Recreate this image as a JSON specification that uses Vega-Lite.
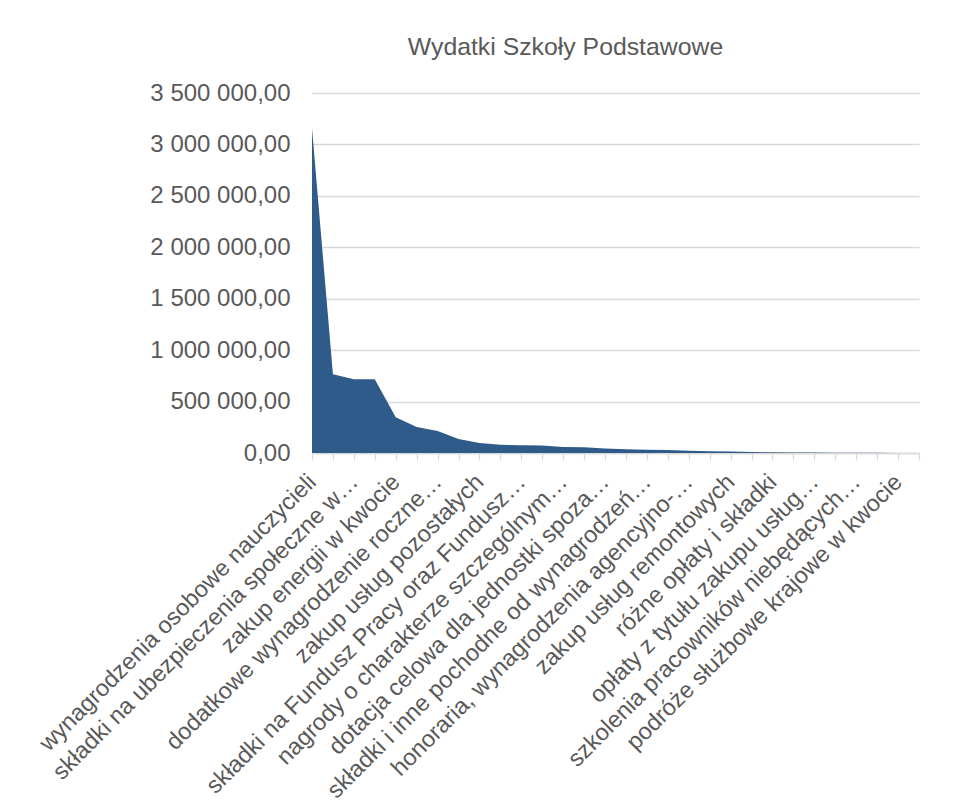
{
  "$schema": "https://vega.github.io/schema/vega-lite/v6.json",
  "width": 607,
  "height": 360,
  "autosize": {"type": "none"},
  "padding": {"left": 312, "top": 93, "right": 36, "bottom": 352},
  "background": "white",
  "title": {
    "text": "Wydatki Szkoły Podstawowe",
    "font": "Liberation Sans",
    "fontSize": 24.8,
    "fontWeight": "normal",
    "color": "#595959",
    "anchor": "middle",
    "frame": "group",
    "dx": -50,
    "offset": 21
  },
  "config": {
    "locale": {"number": {"decimal": ",", "thousands": " ", "grouping": [3], "currency": ["", " zł"]}},
    "view": {"stroke": null},
    "font": "Liberation Sans"
  },
  "data": {
    "values": [
      {"kategoria": "wynagrodzenia osobowe nauczycieli", "kwota": 3157000},
      {"kategoria": "wynagrodzenia osobowe pracowników", "kwota": 765000},
      {"kategoria": "składki na ubezpieczenia społeczne w…", "kwota": 716000},
      {"kategoria": "zakup materiałów i wyposażenia", "kwota": 716000},
      {"kategoria": "zakup energii w kwocie", "kwota": 347000},
      {"kategoria": "wydatki osobowe niezaliczone do wynagrodzeń", "kwota": 252000},
      {"kategoria": "dodatkowe wynagrodzenie roczne…", "kwota": 214000},
      {"kategoria": "odpisy na zakładowy fundusz świadczeń socjalnych", "kwota": 136000},
      {"kategoria": "zakup usług pozostałych", "kwota": 97000},
      {"kategoria": "zakup pomocy naukowych, dydaktycznych i książek", "kwota": 81000},
      {"kategoria": "składki na Fundusz Pracy oraz Fundusz…", "kwota": 75000},
      {"kategoria": "zakup środków żywności", "kwota": 72000},
      {"kategoria": "nagrody o charakterze szczególnym…", "kwota": 58000},
      {"kategoria": "wynagrodzenia bezosobowe", "kwota": 55000},
      {"kategoria": "dotacja celowa dla jednostki spoza…", "kwota": 44000},
      {"kategoria": "zakup usług dostępu do sieci Internet", "kwota": 36000},
      {"kategoria": "składki i inne pochodne od wynagrodzeń…", "kwota": 32000},
      {"kategoria": "podatek od nieruchomości", "kwota": 28000},
      {"kategoria": "honoraria, wynagrodzenia agencyjno-…", "kwota": 22000},
      {"kategoria": "zakup usług zdrowotnych", "kwota": 18000},
      {"kategoria": "zakup usług remontowych", "kwota": 14000},
      {"kategoria": "opłaty za administrowanie i czynsze", "kwota": 10000},
      {"kategoria": "różne opłaty i składki", "kwota": 7000},
      {"kategoria": "zakup akcesoriów komputerowych", "kwota": 5000},
      {"kategoria": "opłaty z tytułu zakupu usług…", "kwota": 4000},
      {"kategoria": "podróże służbowe zagraniczne", "kwota": 3000},
      {"kategoria": "szkolenia pracowników niebędących…", "kwota": 2000},
      {"kategoria": "zakup usług obejmujących wykonanie ekspertyz", "kwota": 1500},
      {"kategoria": "podróże służbowe krajowe w kwocie", "kwota": 1000},
      {"kategoria": "pozostałe odsetki", "kwota": 500}
    ]
  },
  "mark": {"type": "area", "color": "#2e5b8a", "interpolate": "linear"},
  "encoding": {
    "x": {
      "field": "kategoria",
      "type": "nominal",
      "sort": null,
      "scale": {"type": "point", "padding": 0},
      "axis": {
        "title": null,
        "labelAngle": -45,
        "labelAlign": "right",
        "labelBaseline": "middle",
        "labelFont": "Liberation Sans",
        "labelFontSize": 23.5,
        "labelColor": "#595959",
        "labelLimit": 1000,
        "labelPadding": 18,
        "labelOverlap": false,
        "labelExpr": "round(datum.index * 29) % 2 == 0 ? datum.label : ''",
        "domainColor": "#d9d9d9",
        "domainWidth": 1.3,
        "tickColor": "#d9d9d9",
        "tickWidth": 1.3,
        "tickSize": 7,
        "grid": false
      }
    },
    "y": {
      "field": "kwota",
      "type": "quantitative",
      "scale": {"domain": [0, 3500000], "nice": false},
      "axis": {
        "title": null,
        "values": [0, 500000, 1000000, 1500000, 2000000, 2500000, 3000000, 3500000],
        "format": ",.2f",
        "labelFont": "Liberation Sans",
        "labelFontSize": 24,
        "labelColor": "#595959",
        "labelPadding": 22,
        "domain": false,
        "ticks": false,
        "grid": true,
        "gridColor": "#d9d9d9",
        "gridWidth": 1.3
      }
    }
  }
}
